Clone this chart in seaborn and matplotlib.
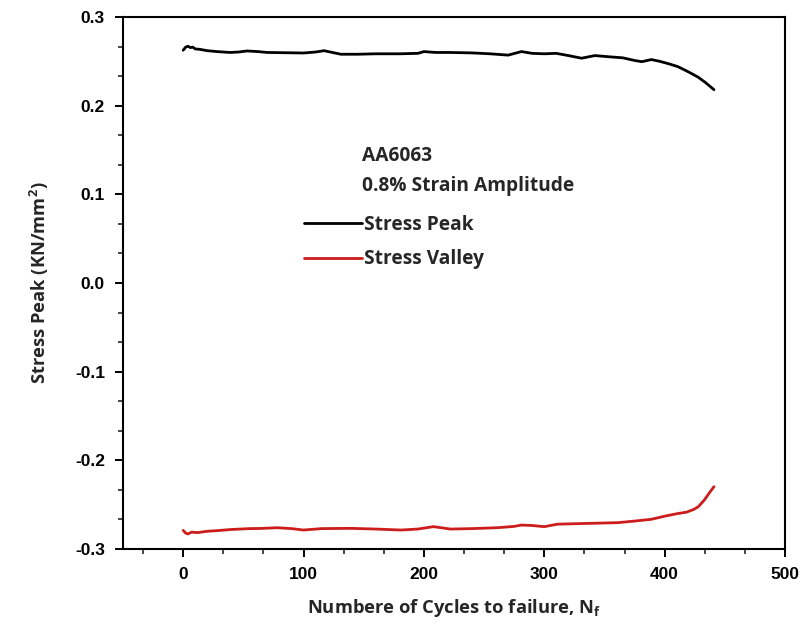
import matplotlib
matplotlib.use("Agg")
import matplotlib.pyplot as plt
from matplotlib.ticker import AutoMinorLocator
from matplotlib.lines import Line2D
import seaborn as sns
import pandas as pd

# Cyclic stress response of AA6063 at 0.8% strain amplitude
cycles_peak = [0, 2, 4, 6, 8, 10, 14, 20, 28, 39, 46, 53, 62, 70, 85, 100,
               110, 117, 124, 131, 145, 160, 180, 195, 200, 210, 222, 240,
               255, 270, 281, 290, 300, 310, 320, 331, 342, 355, 365, 375,
               381, 389, 396, 404, 411, 417, 422, 428, 434, 441]
stress_peak = [0.2625, 0.266, 0.267, 0.2655, 0.266, 0.264, 0.2635, 0.262,
               0.261, 0.260, 0.2605, 0.2617, 0.261, 0.260, 0.2597, 0.2594,
               0.2605, 0.262, 0.260, 0.258, 0.258, 0.2585, 0.2585, 0.259,
               0.261, 0.260, 0.260, 0.2595, 0.2585, 0.257, 0.261, 0.259,
               0.2585, 0.259, 0.2565, 0.2535, 0.2565, 0.255, 0.254, 0.251,
               0.2496, 0.252, 0.250, 0.247, 0.244, 0.240, 0.2365, 0.232,
               0.226, 0.218]

cycles_valley = [0, 2, 4, 7, 12, 20, 28, 40, 55, 65, 78, 90, 100, 115, 139,
                 160, 181, 195, 208, 222, 240, 261, 275, 281, 290, 300, 311,
                 325, 340, 361, 375, 389, 400, 411, 418, 424, 428, 433, 437,
                 441]
stress_valley = [-0.279, -0.282, -0.283, -0.281, -0.2815, -0.280, -0.2793,
                 -0.278, -0.277, -0.2768, -0.276, -0.277, -0.2786, -0.277,
                 -0.2767, -0.2775, -0.2786, -0.2775, -0.2748, -0.2775,
                 -0.277, -0.276, -0.2745, -0.273, -0.2735, -0.2748, -0.272,
                 -0.2715, -0.271, -0.2703, -0.2685, -0.2665, -0.263, -0.260,
                 -0.2585, -0.2555, -0.2523, -0.2447, -0.237, -0.2297]

series_names = ["Stress Peak", "Stress Valley"]
series_colors = ["#000000", "#cc1c1c"]

x_ticks = [0, 100, 200, 300, 400, 500]
y_ticks = [-0.3, -0.2, -0.1, 0.0, 0.1, 0.2, 0.3]

df = pd.concat([
    pd.DataFrame({"cycles": cycles_peak, "stress": stress_peak,
                  "series": series_names[0]}),
    pd.DataFrame({"cycles": cycles_valley, "stress": stress_valley,
                  "series": series_names[1]}),
])

sns.set_style("ticks")
plt.rcParams["font.family"] = ["Liberation Sans", "DejaVu Sans"]
plt.rcParams["mathtext.fontset"] = "custom"
plt.rcParams["mathtext.rm"] = "Open Sans:bold"
plt.rcParams["mathtext.it"] = "Open Sans:bold"
plt.rcParams["mathtext.bf"] = "Open Sans:bold"

fig = plt.figure(figsize=(8.04, 6.34), dpi=100)
ax = fig.add_axes([123 / 804, 85 / 634, 662 / 804, 532 / 634])

sns.lineplot(data=df, x="cycles", y="stress", hue="series",
             palette=dict(zip(series_names, series_colors)),
             estimator=None, sort=False, linewidth=2.0, ax=ax, legend=False)

ax.set_xlim(-50, 500)
ax.set_ylim(-0.3, 0.3)
ax.set_xticks(x_ticks)
ax.set_yticks(y_ticks)
ax.set_yticklabels([f"{v:.1f}" for v in y_ticks])
ax.xaxis.set_minor_locator(AutoMinorLocator(3))
ax.yaxis.set_minor_locator(AutoMinorLocator(3))

for side in ["left", "right", "top", "bottom"]:
    ax.spines[side].set_visible(True)
    ax.spines[side].set_color("black")
    ax.spines[side].set_linewidth(1.5)

ax.tick_params(which="major", direction="out", length=6, width=1.4,
               labelsize=12.5, colors="black", pad=7)
ax.tick_params(which="minor", direction="out", length=3.5, width=1.2)
ax.tick_params(top=False, right=False, which="both")
for lab in ax.get_xticklabels() + ax.get_yticklabels():
    lab.set_fontweight("bold")

label_font = dict(family=["Open Sans", "DejaVu Sans"], weight="bold",
                  size=13.2)
ax.set_xlabel(r"Numbere of Cycles to failure, N$_\mathrm{f}$", labelpad=11,
              **label_font)
ax.set_ylabel(r"Stress Peak (KN/mm$^\mathrm{2}$)", labelpad=17, **label_font)

text_font = dict(family=["Open Sans", "DejaVu Sans"], weight="bold",
                 size=13.8)
ax.text(0.361, 0.738, "AA6063", transform=ax.transAxes, va="center",
        **text_font)
ax.text(0.361, 0.682, "0.8% Strain Amplitude", transform=ax.transAxes,
        va="center", **text_font)

handles = [Line2D([], [], color=c, linewidth=2.0) for c in series_colors]
leg = ax.legend(handles, series_names, loc="upper left",
                bbox_to_anchor=(0.262, 0.642), frameon=False,
                handlelength=3.0, handletextpad=0.15, labelspacing=0.75,
                borderaxespad=0,
                prop=dict(family="Open Sans", weight="bold", size=13.8))

fig.savefig("out.png", dpi=100)
